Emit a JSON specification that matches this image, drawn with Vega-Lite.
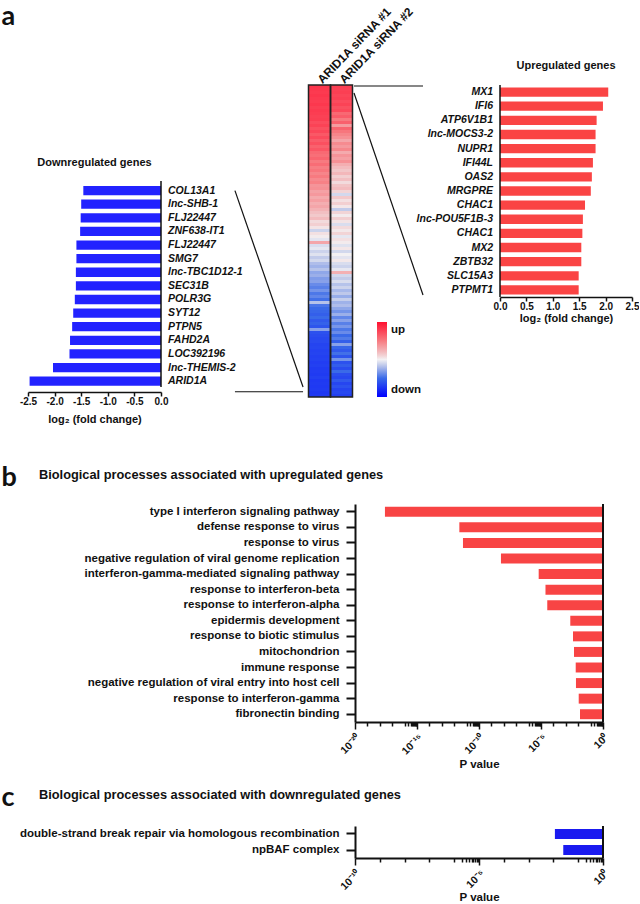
{
"$schema": "https://vega.github.io/schema/vega-lite/v6.json",
"padding": {"left": 1, "top": 2, "right": 0, "bottom": 0},
"background": "white",
"config": {
  "view": {"stroke": null},
  "font": "Liberation Sans",
  "axis": {"grid": false, "labelOverlap": false, "labelFont": "Liberation Sans", "labelFontWeight": "bold", "labelColor": "#111111", "titleFont": "Liberation Sans", "titleFontWeight": "bold", "titleColor": "#111111", "domainColor": "#111111", "tickColor": "#111111"},
  "title": {"font": "Liberation Sans", "fontWeight": "bold", "color": "#111111", "fontSize": 11}
},
"datasets": {
  "down": [
    {"rank": 1, "gene": "COL13A1", "fc": -1.46},
    {"rank": 2, "gene": "lnc-SHB-1", "fc": -1.50},
    {"rank": 3, "gene": "FLJ22447", "fc": -1.51},
    {"rank": 4, "gene": "ZNF638-IT1", "fc": -1.52},
    {"rank": 5, "gene": "FLJ22447", "fc": -1.59},
    {"rank": 6, "gene": "SMG7", "fc": -1.59},
    {"rank": 7, "gene": "lnc-TBC1D12-1", "fc": -1.60},
    {"rank": 8, "gene": "SEC31B", "fc": -1.60},
    {"rank": 9, "gene": "POLR3G", "fc": -1.62},
    {"rank": 10, "gene": "SYT12", "fc": -1.65},
    {"rank": 11, "gene": "PTPN5", "fc": -1.67},
    {"rank": 12, "gene": "FAHD2A", "fc": -1.71},
    {"rank": 13, "gene": "LOC392196", "fc": -1.72},
    {"rank": 14, "gene": "lnc-THEMIS-2", "fc": -2.03},
    {"rank": 15, "gene": "ARID1A", "fc": -2.47}
  ],
  "up": [
    {"rank": 1, "gene": "MX1", "fc": 2.05},
    {"rank": 2, "gene": "IFI6", "fc": 1.95},
    {"rank": 3, "gene": "ATP6V1B1", "fc": 1.83},
    {"rank": 4, "gene": "lnc-MOCS3-2", "fc": 1.81},
    {"rank": 5, "gene": "NUPR1", "fc": 1.81},
    {"rank": 6, "gene": "IFI44L", "fc": 1.76},
    {"rank": 7, "gene": "OAS2", "fc": 1.74},
    {"rank": 8, "gene": "MRGPRE", "fc": 1.72},
    {"rank": 9, "gene": "CHAC1", "fc": 1.61},
    {"rank": 10, "gene": "lnc-POU5F1B-3", "fc": 1.57},
    {"rank": 11, "gene": "CHAC1", "fc": 1.56},
    {"rank": 12, "gene": "MX2", "fc": 1.54},
    {"rank": 13, "gene": "ZBTB32", "fc": 1.54},
    {"rank": 14, "gene": "SLC15A3", "fc": 1.49},
    {"rank": 15, "gene": "PTPMT1", "fc": 1.49}
  ],
  "goUp": [
    {"term": "type I interferon signaling pathway", "p": 2.6e-18},
    {"term": "defense response to virus", "p": 2.6e-12},
    {"term": "response to virus", "p": 5.1e-12},
    {"term": "negative regulation of viral genome replication", "p": 5.9e-9},
    {"term": "interferon-gamma-mediated signaling pathway", "p": 6.5e-6},
    {"term": "response to interferon-beta", "p": 2.3e-5},
    {"term": "response to interferon-alpha", "p": 3.2e-5},
    {"term": "epidermis development", "p": 2.3e-3},
    {"term": "response to biotic stimulus", "p": 3.8e-3},
    {"term": "mitochondrion", "p": 4.6e-3},
    {"term": "immune response", "p": 6.3e-3},
    {"term": "negative regulation of viral entry into host cell", "p": 6.6e-3},
    {"term": "response to interferon-gamma", "p": 1.1e-2},
    {"term": "fibronectin binding", "p": 1.4e-2}
  ],
  "goDown": [
    {"term": "double-strand break repair via homologous recombination", "p": 1.15e-2},
    {"term": "npBAF complex", "p": 2.5e-2}
  ],
  "heat": [
    {"row": 1, "ARID1A siRNA #1": 0.82, "ARID1A siRNA #2": 0.78},
    {"row": 2, "ARID1A siRNA #1": 0.81, "ARID1A siRNA #2": 0.77},
    {"row": 3, "ARID1A siRNA #1": 0.80, "ARID1A siRNA #2": 0.78},
    {"row": 4, "ARID1A siRNA #1": 0.82, "ARID1A siRNA #2": 0.75},
    {"row": 5, "ARID1A siRNA #1": 0.80, "ARID1A siRNA #2": 0.77},
    {"row": 6, "ARID1A siRNA #1": 0.79, "ARID1A siRNA #2": 0.72},
    {"row": 7, "ARID1A siRNA #1": 0.81, "ARID1A siRNA #2": 0.76},
    {"row": 8, "ARID1A siRNA #1": 0.78, "ARID1A siRNA #2": 0.70},
    {"row": 9, "ARID1A siRNA #1": 0.80, "ARID1A siRNA #2": 0.73},
    {"row": 10, "ARID1A siRNA #1": 0.79, "ARID1A siRNA #2": 0.58},
    {"row": 11, "ARID1A siRNA #1": 0.77, "ARID1A siRNA #2": 0.64},
    {"row": 12, "ARID1A siRNA #1": 0.78, "ARID1A siRNA #2": 0.50},
    {"row": 13, "ARID1A siRNA #1": 0.72, "ARID1A siRNA #2": 0.62},
    {"row": 14, "ARID1A siRNA #1": 0.76, "ARID1A siRNA #2": 0.35},
    {"row": 15, "ARID1A siRNA #1": 0.70, "ARID1A siRNA #2": 0.60},
    {"row": 16, "ARID1A siRNA #1": 0.74, "ARID1A siRNA #2": 0.52},
    {"row": 17, "ARID1A siRNA #1": 0.66, "ARID1A siRNA #2": 0.45},
    {"row": 18, "ARID1A siRNA #1": 0.72, "ARID1A siRNA #2": 0.40},
    {"row": 19, "ARID1A siRNA #1": 0.64, "ARID1A siRNA #2": 0.30},
    {"row": 20, "ARID1A siRNA #1": 0.70, "ARID1A siRNA #2": 0.42},
    {"row": 21, "ARID1A siRNA #1": 0.62, "ARID1A siRNA #2": 0.36},
    {"row": 22, "ARID1A siRNA #1": 0.67, "ARID1A siRNA #2": 0.44},
    {"row": 23, "ARID1A siRNA #1": 0.58, "ARID1A siRNA #2": 0.28},
    {"row": 24, "ARID1A siRNA #1": 0.55, "ARID1A siRNA #2": 0.38},
    {"row": 25, "ARID1A siRNA #1": 0.60, "ARID1A siRNA #2": 0.33},
    {"row": 26, "ARID1A siRNA #1": 0.50, "ARID1A siRNA #2": 0.40},
    {"row": 27, "ARID1A siRNA #1": 0.56, "ARID1A siRNA #2": 0.26},
    {"row": 28, "ARID1A siRNA #1": 0.48, "ARID1A siRNA #2": 0.20},
    {"row": 29, "ARID1A siRNA #1": 0.52, "ARID1A siRNA #2": 0.15},
    {"row": 30, "ARID1A siRNA #1": 0.45, "ARID1A siRNA #2": 0.22},
    {"row": 31, "ARID1A siRNA #1": 0.50, "ARID1A siRNA #2": 0.12},
    {"row": 32, "ARID1A siRNA #1": 0.43, "ARID1A siRNA #2": 0.18},
    {"row": 33, "ARID1A siRNA #1": 0.47, "ARID1A siRNA #2": 0.08},
    {"row": 34, "ARID1A siRNA #1": 0.38, "ARID1A siRNA #2": 0.16},
    {"row": 35, "ARID1A siRNA #1": 0.40, "ARID1A siRNA #2": 0.20},
    {"row": 36, "ARID1A siRNA #1": 0.32, "ARID1A siRNA #2": 0.10},
    {"row": 37, "ARID1A siRNA #1": 0.36, "ARID1A siRNA #2": -0.10},
    {"row": 38, "ARID1A siRNA #1": 0.28, "ARID1A siRNA #2": 0.14},
    {"row": 39, "ARID1A siRNA #1": 0.33, "ARID1A siRNA #2": 0.06},
    {"row": 40, "ARID1A siRNA #1": 0.26, "ARID1A siRNA #2": 0.12},
    {"row": 41, "ARID1A siRNA #1": 0.30, "ARID1A siRNA #2": 0.04},
    {"row": 42, "ARID1A siRNA #1": 0.24, "ARID1A siRNA #2": -0.15},
    {"row": 43, "ARID1A siRNA #1": 0.18, "ARID1A siRNA #2": 0.10},
    {"row": 44, "ARID1A siRNA #1": 0.14, "ARID1A siRNA #2": 0.02},
    {"row": 45, "ARID1A siRNA #1": 0.20, "ARID1A siRNA #2": 0.12},
    {"row": 46, "ARID1A siRNA #1": 0.08, "ARID1A siRNA #2": 0.05},
    {"row": 47, "ARID1A siRNA #1": 0.12, "ARID1A siRNA #2": -0.08},
    {"row": 48, "ARID1A siRNA #1": 0.05, "ARID1A siRNA #2": 0.08},
    {"row": 49, "ARID1A siRNA #1": -0.12, "ARID1A siRNA #2": 0.03},
    {"row": 50, "ARID1A siRNA #1": 0.06, "ARID1A siRNA #2": 0.10},
    {"row": 51, "ARID1A siRNA #1": 0.02, "ARID1A siRNA #2": -0.04},
    {"row": 52, "ARID1A siRNA #1": -0.05, "ARID1A siRNA #2": 0.06},
    {"row": 53, "ARID1A siRNA #1": 0.30, "ARID1A siRNA #2": 0.02},
    {"row": 54, "ARID1A siRNA #1": -0.08, "ARID1A siRNA #2": -0.06},
    {"row": 55, "ARID1A siRNA #1": -0.04, "ARID1A siRNA #2": 0.04},
    {"row": 56, "ARID1A siRNA #1": -0.12, "ARID1A siRNA #2": -0.10},
    {"row": 57, "ARID1A siRNA #1": -0.06, "ARID1A siRNA #2": 0.00},
    {"row": 58, "ARID1A siRNA #1": -0.15, "ARID1A siRNA #2": -0.05},
    {"row": 59, "ARID1A siRNA #1": -0.10, "ARID1A siRNA #2": 0.03},
    {"row": 60, "ARID1A siRNA #1": -0.20, "ARID1A siRNA #2": -0.08},
    {"row": 61, "ARID1A siRNA #1": -0.24, "ARID1A siRNA #2": -0.12},
    {"row": 62, "ARID1A siRNA #1": -0.18, "ARID1A siRNA #2": -0.04},
    {"row": 63, "ARID1A siRNA #1": -0.28, "ARID1A siRNA #2": 0.25},
    {"row": 64, "ARID1A siRNA #1": -0.25, "ARID1A siRNA #2": -0.10},
    {"row": 65, "ARID1A siRNA #1": -0.32, "ARID1A siRNA #2": -0.15},
    {"row": 66, "ARID1A siRNA #1": -0.30, "ARID1A siRNA #2": -0.08},
    {"row": 67, "ARID1A siRNA #1": -0.38, "ARID1A siRNA #2": -0.18},
    {"row": 68, "ARID1A siRNA #1": -0.42, "ARID1A siRNA #2": -0.12},
    {"row": 69, "ARID1A siRNA #1": -0.35, "ARID1A siRNA #2": -0.22},
    {"row": 70, "ARID1A siRNA #1": -0.45, "ARID1A siRNA #2": -0.16},
    {"row": 71, "ARID1A siRNA #1": -0.40, "ARID1A siRNA #2": -0.26},
    {"row": 72, "ARID1A siRNA #1": -0.48, "ARID1A siRNA #2": -0.14},
    {"row": 73, "ARID1A siRNA #1": -0.18, "ARID1A siRNA #2": -0.24},
    {"row": 74, "ARID1A siRNA #1": -0.46, "ARID1A siRNA #2": -0.20},
    {"row": 75, "ARID1A siRNA #1": -0.50, "ARID1A siRNA #2": -0.28},
    {"row": 76, "ARID1A siRNA #1": -0.52, "ARID1A siRNA #2": -0.35},
    {"row": 77, "ARID1A siRNA #1": -0.55, "ARID1A siRNA #2": -0.25},
    {"row": 78, "ARID1A siRNA #1": -0.50, "ARID1A siRNA #2": -0.40},
    {"row": 79, "ARID1A siRNA #1": -0.58, "ARID1A siRNA #2": -0.30},
    {"row": 80, "ARID1A siRNA #1": -0.54, "ARID1A siRNA #2": -0.42},
    {"row": 81, "ARID1A siRNA #1": -0.60, "ARID1A siRNA #2": -0.34},
    {"row": 82, "ARID1A siRNA #1": -0.30, "ARID1A siRNA #2": -0.45},
    {"row": 83, "ARID1A siRNA #1": -0.62, "ARID1A siRNA #2": -0.38},
    {"row": 84, "ARID1A siRNA #1": -0.64, "ARID1A siRNA #2": -0.50},
    {"row": 85, "ARID1A siRNA #1": -0.66, "ARID1A siRNA #2": -0.44},
    {"row": 86, "ARID1A siRNA #1": -0.65, "ARID1A siRNA #2": -0.55},
    {"row": 87, "ARID1A siRNA #1": -0.68, "ARID1A siRNA #2": -0.30},
    {"row": 88, "ARID1A siRNA #1": -0.67, "ARID1A siRNA #2": -0.52},
    {"row": 89, "ARID1A siRNA #1": -0.69, "ARID1A siRNA #2": -0.58},
    {"row": 90, "ARID1A siRNA #1": -0.68, "ARID1A siRNA #2": -0.48},
    {"row": 91, "ARID1A siRNA #1": -0.70, "ARID1A siRNA #2": -0.60},
    {"row": 92, "ARID1A siRNA #1": -0.69, "ARID1A siRNA #2": -0.35},
    {"row": 93, "ARID1A siRNA #1": -0.71, "ARID1A siRNA #2": -0.62},
    {"row": 94, "ARID1A siRNA #1": -0.70, "ARID1A siRNA #2": -0.56},
    {"row": 95, "ARID1A siRNA #1": -0.72, "ARID1A siRNA #2": -0.64},
    {"row": 96, "ARID1A siRNA #1": -0.71, "ARID1A siRNA #2": -0.50},
    {"row": 97, "ARID1A siRNA #1": -0.72, "ARID1A siRNA #2": -0.63},
    {"row": 98, "ARID1A siRNA #1": -0.70, "ARID1A siRNA #2": -0.66},
    {"row": 99, "ARID1A siRNA #1": -0.73, "ARID1A siRNA #2": -0.58},
    {"row": 100, "ARID1A siRNA #1": -0.72, "ARID1A siRNA #2": -0.67},
    {"row": 101, "ARID1A siRNA #1": -0.73, "ARID1A siRNA #2": -0.62},
    {"row": 102, "ARID1A siRNA #1": -0.72, "ARID1A siRNA #2": -0.68},
    {"row": 103, "ARID1A siRNA #1": -0.74, "ARID1A siRNA #2": -0.66},
    {"row": 104, "ARID1A siRNA #1": -0.73, "ARID1A siRNA #2": -0.70}
  ]
},
"spacing": 39,
"resolve": {"scale": {"color": "independent"}, "legend": {"color": "independent"}},
"vconcat": [
  {
    "bounds": "flush",
    "spacing": 147.5,
    "resolve": {"scale": {"color": "independent"}, "legend": {"color": "independent"}},
    "hconcat": [
      {
        "width": 133, "height": 307,
        "title": {"text": "Downregulated genes", "baseline": "alphabetic", "offset": -92, "fontSize": 11},
        "data": {"name": "down"},
        "layer": [
          {"mark": {"type": "bar", "color": "#2222ff", "size": 9.3},
           "encoding": {
             "x": {"field": "fc", "type": "quantitative", "scale": {"domain": [-2.5, 0], "nice": false, "zero": false},
               "axis": {"values": [-2.5, -2, -1.5, -1, -0.5, 0], "tickCount": 12, "labelExpr": "datum.value < 0 ? '-' + format(-datum.value, '.1f') : format(datum.value, '.1f')", "labelFlush": false, "labelOverlap": false, "labelFontSize": 10, "labelPadding": 0, "tickSize": 4, "tickWidth": 1.5, "domainWidth": 1.5, "title": "log₂ (fold change)", "titleFontSize": 11, "titlePadding": 7}},
             "x2": {"datum": 0},
             "y": {"field": "rank", "type": "quantitative", "scale": {"domain": [-6.39, 15.43], "nice": false, "zero": false, "reverse": true}, "axis": null}
           }},
          {"mark": {"type": "text", "align": "left", "baseline": "middle", "dx": 7, "fontSize": 10.5, "fontWeight": "bold", "fontStyle": "italic", "color": "#111111"},
           "encoding": {"x": {"datum": 0}, "y": {"field": "rank", "type": "quantitative"}, "text": {"field": "gene"}}},
          {"transform": [{"aggregate": [{"op": "count", "as": "n"}]}],
           "mark": {"type": "rule", "color": "#111111", "strokeWidth": 1.5},
           "encoding": {"x": {"datum": 0}, "y": {"datum": 0.3}, "y2": {"datum": 15.43}}},
          {"transform": [{"aggregate": [{"op": "count", "as": "n"}]}],
           "mark": {"type": "rule", "color": "#111111", "strokeWidth": 1.2},
           "encoding": {"x": {"datum": 1.39}, "x2": {"datum": 2.67}, "y": {"datum": 1}, "y2": {"datum": 15.43}}},
          {"transform": [{"aggregate": [{"op": "count", "as": "n"}]}],
           "mark": {"type": "rule", "color": "#111111", "strokeWidth": 1.2},
           "encoding": {"x": {"datum": 1.39}, "x2": {"datum": 2.67}, "y": {"datum": 15.78}}}
        ]
      },
      {
        "width": 44, "height": 312,
        "data": {"name": "heat"},
        "transform": [{"fold": ["ARID1A siRNA #1", "ARID1A siRNA #2"], "as": ["sample", "value"]}],
        "layer": [
          {"mark": {"type": "rect"},
           "encoding": {
             "x": {"field": "sample", "type": "nominal", "scale": {"paddingInner": 0, "paddingOuter": 0},
               "axis": {"orient": "top", "title": null, "labelAngle": -46, "labelAlign": "left", "labelBaseline": "middle", "labelFontSize": 12, "labelLimit": 200, "ticks": false, "domain": false, "labelPadding": 4}},
             "y": {"field": "row", "type": "ordinal", "scale": {"paddingInner": 0, "paddingOuter": 0},
               "axis": {"labels": false, "ticks": false, "domain": false, "title": "a", "titleAngle": 0, "titleX": -307.5, "titleY": -61, "titleAlign": "left", "titleBaseline": "alphabetic", "titleFont": "Lato", "titleFontSize": 27, "titleFontWeight": "bold"}},
             "color": {"field": "value", "type": "quantitative",
               "scale": {"domain": [-1, -0.5, -0.15, 0, 0.15, 0.5, 1], "range": ["#0000ff", "#3a6ae8", "#c2cbea", "#f3f1f3", "#f2c6c8", "#f77a80", "#ff1030"], "interpolate": "rgb"},
               "legend": {"orient": "none", "legendX": 68.5, "legendY": 237, "direction": "vertical", "gradientLength": 75, "gradientThickness": 10, "gradientStrokeWidth": 0, "title": null, "padding": 0, "values": [-0.8, 0.8], "labelExpr": "datum.value > 0 ? 'up' : 'down'", "labelFont": "Liberation Sans", "labelFontSize": 11.5, "labelFontWeight": "bold", "labelColor": "#111111", "labelOffset": 4, "labelOverlap": false}}
           }},
          {"transform": [{"aggregate": [{"op": "count", "as": "n"}], "groupby": ["sample"]}],
           "mark": {"type": "rect", "fillOpacity": 0, "stroke": "#222222", "strokeWidth": 1.5},
           "encoding": {"x": {"field": "sample", "type": "nominal"}}}
        ]
      },
      {
        "width": 132, "height": 212,
        "title": {"text": "Upregulated genes", "baseline": "alphabetic", "offset": 4, "fontSize": 11},
        "data": {"name": "up"},
        "layer": [
          {"mark": {"type": "bar", "color": "#fa4444"},
           "encoding": {
             "x": {"field": "fc", "type": "quantitative", "scale": {"domain": [0, 2.5], "nice": false},
               "axis": {"values": [0, 0.5, 1, 1.5, 2, 2.5], "tickCount": 12, "format": ".1f", "labelFlush": false, "labelOverlap": false, "labelFontSize": 10, "labelPadding": 0, "tickSize": 4, "tickWidth": 1.5, "domainWidth": 1.5, "title": "log₂ (fold change)", "titleFontSize": 11, "titlePadding": 1}},
             "x2": {"datum": 0},
             "y": {"field": "rank", "type": "ordinal", "scale": {"paddingInner": 0.34, "paddingOuter": 0.17}, "axis": null}
           }},
          {"mark": {"type": "text", "align": "right", "baseline": "middle", "dx": -7, "fontSize": 10.5, "fontWeight": "bold", "fontStyle": "italic", "color": "#111111"},
           "encoding": {"x": {"datum": 0}, "y": {"field": "rank", "type": "ordinal"}, "text": {"field": "gene"}}},
          {"transform": [{"aggregate": [{"op": "count", "as": "n"}]}],
           "mark": {"type": "rule", "color": "#111111", "strokeWidth": 1.5},
           "encoding": {"x": {"datum": 0}}},
          {"transform": [{"aggregate": [{"op": "count", "as": "n"}]}],
           "mark": {"type": "rule", "color": "#111111", "strokeWidth": 1.2},
           "encoding": {"x": {"datum": -2.765}, "x2": {"datum": -1.458}, "y": {"datum": 1, "type": "ordinal", "bandPosition": -0.15}}},
          {"transform": [{"aggregate": [{"op": "count", "as": "n"}]}],
           "mark": {"type": "rule", "color": "#111111", "strokeWidth": 1.2},
           "encoding": {"x": {"datum": -2.765}, "x2": {"datum": -1.458}, "y": {"datum": 1, "type": "ordinal", "bandPosition": 0.6}, "y2": {"datum": 15, "bandPosition": 1.04}}}
        ]
      }
    ]
  },
  {
    "spacing": 13,
    "vconcat": [
      {
        "bounds": "flush",
        "spacing": 27,
        "hconcat": [
          {"width": 300, "height": 1, "data": {"values": []}, "mark": "point", "encoding": {}},
          {
            "width": 248, "height": 218,
            "title": {"text": "Biological processes associated with upregulated genes", "anchor": "start", "frame": "group", "dx": -316, "offset": -29, "baseline": "alphabetic", "fontSize": 12.8},
            "data": {"name": "goUp"},
            "layer": [
              {"mark": {"type": "bar", "color": "#f84444"},
               "encoding": {
                 "x": {"field": "p", "type": "quantitative", "scale": {"type": "log", "domain": [1e-20, 1], "nice": false},
                   "axis": {"values": [1e-20, 1e-19, 1e-18, 1e-17, 1e-16, 2e-16, 3e-16, 4e-16, 5e-16, 6e-16, 7e-16, 8e-16, 9e-16, 1e-15, 1e-14, 1e-13, 1e-12, 1e-11, 2e-11, 3e-11, 4e-11, 5e-11, 6e-11, 7e-11, 8e-11, 9e-11, 1e-10, 1e-9, 1e-8, 1e-7, 1e-6, 2e-6, 3e-6, 4e-6, 5e-6, 6e-6, 7e-6, 8e-6, 9e-6, 1e-5, 1e-4, 1e-3, 1e-2, 1e-1, 0.2, 0.3, 0.4, 0.5, 0.6, 0.7, 0.8, 0.9, 1],
                     "labelExpr": "datum.value == 1e-20 ? '10⁻²⁰' : datum.value == 1e-15 ? '10⁻¹⁵' : datum.value == 1e-10 ? '10⁻¹⁰' : datum.value == 1e-5 ? '10⁻⁵' : datum.value == 1 ? '10⁰' : ''",
                     "labelAngle": -45, "labelFontSize": 10.5, "labelPadding": 3, "labelOverlap": false, "labelFlush": false,
                     "tickSize": {"condition": {"test": "indexof([1e-20, 1e-15, 1e-10, 1e-5, 1], datum.value) >= 0", "value": 7}, "value": 4},
                     "tickWidth": 1.5, "domainWidth": 2, "title": "P value", "titleFontSize": 11.5, "titlePadding": 2}},
                 "x2": {"datum": 1},
                 "y": {"field": "term", "type": "nominal", "sort": null, "scale": {"paddingInner": 0.36, "paddingOuter": 0.18},
                   "axis": {"title": "b", "titleAngle": 0, "titleX": -354, "titleY": -19, "titleAlign": "left", "titleBaseline": "alphabetic", "titleFont": "Lato", "titleFontSize": 27, "titleFontWeight": "bold", "labelFontSize": 11.5, "labelPadding": 7, "labelLimit": 400, "tickSize": 9, "tickWidth": 2, "domainWidth": 2}}
               }},
              {"transform": [{"aggregate": [{"op": "count", "as": "n"}]}],
               "mark": {"type": "rule", "color": "#111111", "strokeWidth": 2},
               "encoding": {"x": {"datum": 1}}}
            ]
          }
        ]
      },
      {
        "bounds": "flush",
        "spacing": 27,
        "hconcat": [
          {"width": 300, "height": 1, "data": {"values": []}, "mark": "point", "encoding": {}},
          {
            "width": 248, "height": 32,
            "title": {"text": "Biological processes associated with downregulated genes", "anchor": "start", "frame": "group", "dx": -316, "offset": -29, "baseline": "alphabetic", "fontSize": 12.8},
            "data": {"name": "goDown"},
            "layer": [
              {"mark": {"type": "bar", "color": "#1a1af0"},
               "encoding": {
                 "x": {"field": "p", "type": "quantitative", "scale": {"type": "log", "domain": [1e-10, 1], "nice": false},
                   "axis": {"values": [1e-10, 1e-9, 1e-8, 1e-7, 1e-6, 2e-6, 3e-6, 4e-6, 5e-6, 6e-6, 7e-6, 8e-6, 9e-6, 1e-5, 1e-4, 1e-3, 1e-2, 1e-1, 0.2, 0.3, 0.4, 0.5, 0.6, 0.7, 0.8, 0.9, 1],
                     "labelExpr": "datum.value == 1e-10 ? '10⁻¹⁰' : datum.value == 1e-5 ? '10⁻⁵' : datum.value == 1 ? '10⁰' : ''",
                     "labelAngle": -45, "labelFontSize": 10.5, "labelPadding": 3, "labelOverlap": false, "labelFlush": false,
                     "tickSize": {"condition": {"test": "indexof([1e-10, 1e-5, 1], datum.value) >= 0", "value": 7}, "value": 4},
                     "tickWidth": 1.5, "domainWidth": 2, "title": "P value", "titleFontSize": 11.5, "titlePadding": 0}},
                 "x2": {"datum": 1},
                 "y": {"field": "term", "type": "nominal", "sort": null, "scale": {"paddingInner": 0.36, "paddingOuter": 0.18},
                   "axis": {"title": "c", "titleAngle": 0, "titleX": -354, "titleY": -21, "titleAlign": "left", "titleBaseline": "alphabetic", "titleFont": "Lato", "titleFontSize": 27, "titleFontWeight": "bold", "labelFontSize": 11.5, "labelPadding": 7, "labelLimit": 400, "tickSize": 9, "tickWidth": 2, "domainWidth": 2}}
               }},
              {"transform": [{"aggregate": [{"op": "count", "as": "n"}]}],
               "mark": {"type": "rule", "color": "#111111", "strokeWidth": 2},
               "encoding": {"x": {"datum": 1}}}
            ]
          }
        ]
      }
    ]
  }
]
}
